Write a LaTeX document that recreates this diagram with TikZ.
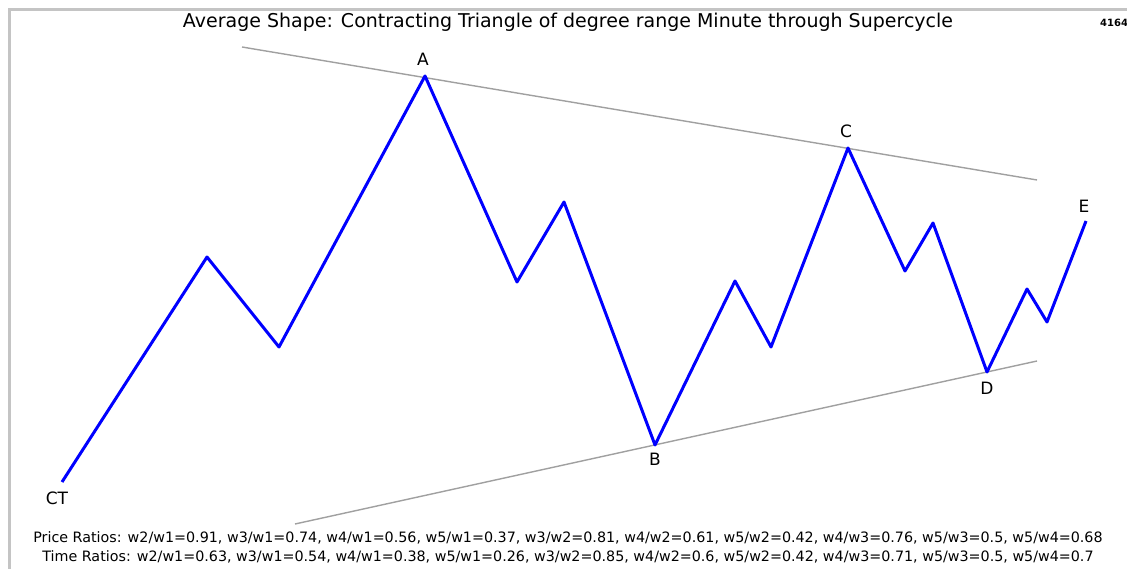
\documentclass[tikz,border=0pt]{standalone}
\usepackage{fontspec}
\setmainfont{DejaVu Sans}
\usetikzlibrary{positioning}
\definecolor{waveBlue}{HTML}{0000FF}
\definecolor{trendGrey}{HTML}{A0A0A0}
\definecolor{frameGrey}{HTML}{C4C4C4}

\begin{document}
\begin{tikzpicture}[x=1pt,y=-1pt,wave/.style={draw=waveBlue, line width=3pt, line join=round},trend/.style={draw=trendGrey, line width=1.4pt},lbl/.style={font=\fontsize{17}{19}\selectfont, inner sep=0pt},ratio/.style={font=\fontsize{14.3}{16}\selectfont, inner sep=0pt}]
\useasboundingbox (0,0) rectangle (1127,569);
\fill[white] (0,0) rectangle (1127,569);
\coordinate (frameBL) at (9.5,569); \coordinate (frameTL) at (9.5,9.5); \coordinate (frameTR) at (1127,9.5);
\draw[frameGrey, line width=3pt] (frameBL)--(frameTL)--(frameTR);
% wave points
\coordinate (ct) at (62,482); \coordinate (w1) at (207,257); \coordinate (w2) at (279,347);
\coordinate (a) at (425,76); \coordinate (a1) at (517,282); \coordinate (a2) at (564,202);
\coordinate (b) at (655,445); \coordinate (b1) at (735,281); \coordinate (b2) at (771,347);
\coordinate (c) at (848,148); \coordinate (c1) at (905,271); \coordinate (c2) at (933,223);
\coordinate (d) at (987,372); \coordinate (d1) at (1027,289); \coordinate (d2) at (1047,322);
\coordinate (e) at (1086,221);
% trend lines
\coordinate (upL) at (242,47); \coordinate (upR) at (1037,180);
\coordinate (loL) at (295,524); \coordinate (loR) at (1037,361);
\draw[trend] (upL)--(upR); \draw[trend] (loL)--(loR);
\draw[wave] (ct)--(w1)--(w2)--(a)--(a1)--(a2)--(b)--(b1)--(b2)--(c)--(c1)--(c2)--(d)--(d1)--(d2)--(e);
\node[lbl, above=10pt of a, xshift=-2pt] (la) {A};
\node[lbl, below=8pt of b] (lb) {B};
\node[lbl, above=10pt of c, xshift=-2pt] (lc) {C};
\node[lbl, below=10pt of d] (ld) {D};
\node[lbl, above=8pt of e, xshift=-2pt] (le) {E};
\node[lbl, below=10pt of ct, xshift=-5pt] (lct) {CT};
\node[lbl, font=\fontsize{19}{21}\selectfont] (title) at (568,22) {Average Shape: Contracting Triangle of degree range Minute through Supercycle};
\node[inner sep=0pt, anchor=west, font=\fontsize{10}{11}\selectfont\bfseries] (tag) at (1100,23) {4164};
\node[ratio] (price) at (568,538) {Price Ratios: w2/w1=0.91, w3/w1=0.74, w4/w1=0.56, w5/w1=0.37, w3/w2=0.81, w4/w2=0.61, w5/w2=0.42, w4/w3=0.76, w5/w3=0.5, w5/w4=0.68};
\node[ratio] (time) at (568,557) {Time Ratios: w2/w1=0.63, w3/w1=0.54, w4/w1=0.38, w5/w1=0.26, w3/w2=0.85, w4/w2=0.6, w5/w2=0.42, w4/w3=0.71, w5/w3=0.5, w5/w4=0.7};
\end{tikzpicture}
\end{document}
